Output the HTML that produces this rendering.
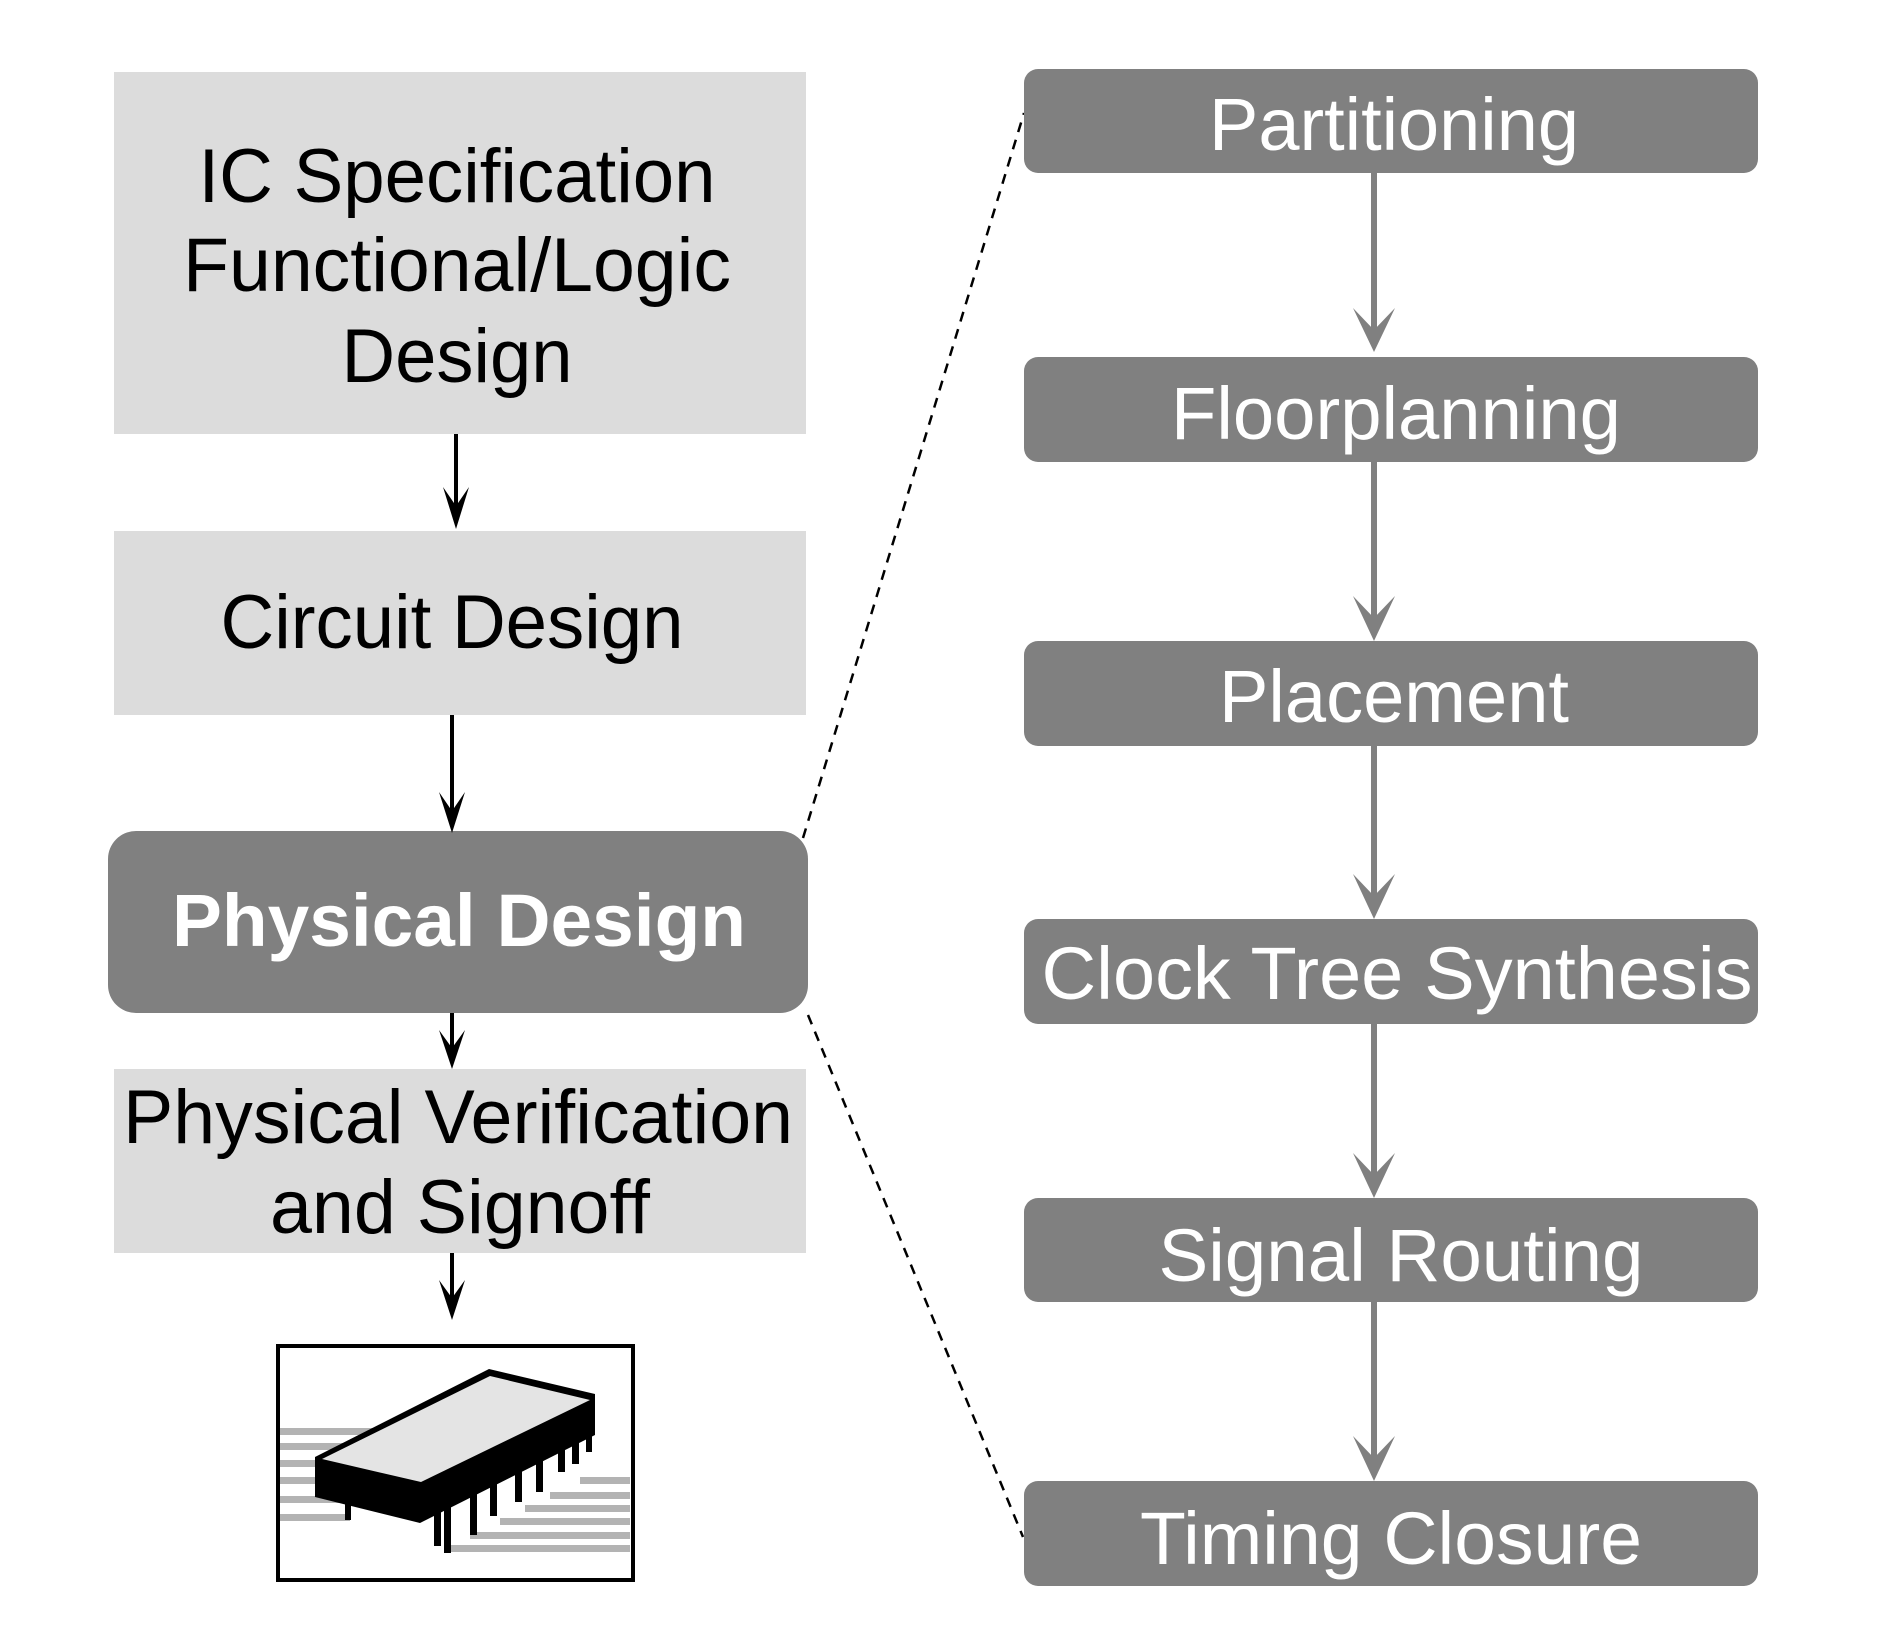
<!DOCTYPE html>
<html><head><meta charset="utf-8"><style>html,body{margin:0;padding:0;background:#fff}svg{display:block}</style></head>
<body>
<svg width="1877" height="1651" viewBox="0 0 1877 1651" xmlns="http://www.w3.org/2000/svg" font-family="Liberation Sans, Arial, sans-serif">
<defs>
<marker id="ab" markerWidth="12" markerHeight="12" refX="10" refY="6" orient="auto" markerUnits="userSpaceOnUse" viewBox="0 0 12 12"></marker>
</defs>
<!-- left boxes -->
<rect x="114" y="72" width="692" height="362" fill="#dcdcdc"/>
<rect x="114" y="531" width="692" height="184" fill="#dcdcdc"/>
<rect x="108" y="831" width="700" height="182" rx="28" fill="#808080"/>
<rect x="114" y="1069" width="692" height="184" fill="#dcdcdc"/>
<g fill="#000" font-size="76" text-anchor="middle">
<text x="457" y="202" textLength="517" lengthAdjust="spacingAndGlyphs">IC Specification</text>
<text x="457" y="291" textLength="548" lengthAdjust="spacingAndGlyphs">Functional/Logic</text>
<text x="457" y="382" textLength="231" lengthAdjust="spacingAndGlyphs">Design</text>
<text x="452" y="648" textLength="463" lengthAdjust="spacingAndGlyphs">Circuit Design</text>
<text x="458" y="1143" textLength="670" lengthAdjust="spacingAndGlyphs">Physical Verification</text>
<text x="460" y="1233" textLength="380" lengthAdjust="spacingAndGlyphs">and Signoff</text>
</g>
<text x="459" y="946" fill="#fff" font-size="74" font-weight="bold" text-anchor="middle" textLength="574" lengthAdjust="spacingAndGlyphs">Physical Design</text>
<!-- black arrows -->
<g stroke="#000" stroke-width="4" fill="none">
<line x1="456" y1="434" x2="456" y2="520"/>
<line x1="452" y1="715" x2="452" y2="825"/>
<line x1="452" y1="1013" x2="452" y2="1062"/>
<line x1="452" y1="1253" x2="452" y2="1313"/>
</g>
<g fill="#000">
<path d="M443,487 L456,529 L469,487 L456,506 Z"/>
<path d="M439,792 L452,833 L465,792 L452,811 Z"/>
<path d="M439,1030 L452,1069 L465,1030 L452,1048 Z"/>
<path d="M439,1280 L452,1320 L465,1280 L452,1298 Z"/>
</g>
<!-- chip icon -->
<rect x="278" y="1346" width="355" height="234" fill="#fff" stroke="#000" stroke-width="4"/>
<g fill="#b3b3b3">
<rect x="280" y="1428" width="100" height="7"/>
<rect x="280" y="1443" width="70" height="7"/>
<rect x="280" y="1460" width="60" height="7"/>
<rect x="280" y="1477" width="60" height="7"/>
<rect x="280" y="1496" width="60" height="7"/>
<rect x="280" y="1514" width="70" height="7"/>
<rect x="580" y="1477" width="50" height="7"/>
<rect x="550" y="1492" width="80" height="7"/>
<rect x="525" y="1505" width="105" height="7"/>
<rect x="500" y="1518" width="130" height="7"/>
<rect x="470" y="1532" width="160" height="7"/>
<rect x="445" y="1545" width="185" height="7"/>
</g>
<g fill="#000">
<path d="M315,1457 L489,1369 L595,1394 L595,1435 L420,1523 L315,1497 Z"/>
<rect x="345" y="1500" width="6" height="20"/>
<rect x="434" y="1510" width="7" height="36"/>
<rect x="444" y="1505" width="7" height="48"/>
<rect x="470" y="1490" width="7" height="45"/>
<rect x="490" y="1478" width="7" height="38"/>
<rect x="515" y="1464" width="7" height="38"/>
<rect x="536" y="1452" width="7" height="40"/>
<rect x="558" y="1440" width="7" height="32"/>
<rect x="572" y="1432" width="7" height="32"/>
<rect x="586" y="1420" width="6" height="32"/>
</g>
<path d="M322,1459 L490,1376 L590,1400 L421,1482 Z" fill="#e4e4e4"/>
<!-- dashed connectors -->
<g stroke="#000" stroke-width="2.5" stroke-dasharray="10,8" fill="none">
<line x1="803" y1="838" x2="1024" y2="113"/>
<line x1="808" y1="1015" x2="1023" y2="1537"/>
</g>
<!-- right boxes -->
<g fill="#808080">
<rect x="1024" y="69" width="734" height="104" rx="14"/>
<rect x="1024" y="357" width="734" height="105" rx="14"/>
<rect x="1024" y="641" width="734" height="105" rx="14"/>
<rect x="1024" y="919" width="734" height="105" rx="14"/>
<rect x="1024" y="1198" width="734" height="104" rx="14"/>
<rect x="1024" y="1481" width="734" height="105" rx="14"/>
</g>
<g fill="#fff" font-size="74" text-anchor="middle">
<text x="1394" y="150" textLength="370" lengthAdjust="spacingAndGlyphs">Partitioning</text>
<text x="1396" y="439" textLength="450" lengthAdjust="spacingAndGlyphs">Floorplanning</text>
<text x="1394" y="722" textLength="350" lengthAdjust="spacingAndGlyphs">Placement</text>
<text x="1397" y="999" textLength="711" lengthAdjust="spacingAndGlyphs">Clock Tree Synthesis</text>
<text x="1401" y="1281" textLength="485" lengthAdjust="spacingAndGlyphs">Signal Routing</text>
<text x="1391" y="1564" textLength="502" lengthAdjust="spacingAndGlyphs">Timing Closure</text>
</g>
<!-- gray arrows -->
<g stroke="#808080" stroke-width="6">
<line x1="1374" y1="173" x2="1374" y2="335"/>
<line x1="1374" y1="462" x2="1374" y2="620"/>
<line x1="1374" y1="746" x2="1374" y2="898"/>
<line x1="1374" y1="1024" x2="1374" y2="1177"/>
<line x1="1374" y1="1302" x2="1374" y2="1460"/>
</g>
<g fill="#808080">
<path d="M1353,308 L1374,352 L1395,308 L1374,330 Z"/>
<path d="M1353,596 L1374,641 L1395,596 L1374,618 Z"/>
<path d="M1353,874 L1374,919 L1395,874 L1374,896 Z"/>
<path d="M1353,1153 L1374,1198 L1395,1153 L1374,1175 Z"/>
<path d="M1353,1436 L1374,1481 L1395,1436 L1374,1458 Z"/>
</g>
</svg>
</body></html>
